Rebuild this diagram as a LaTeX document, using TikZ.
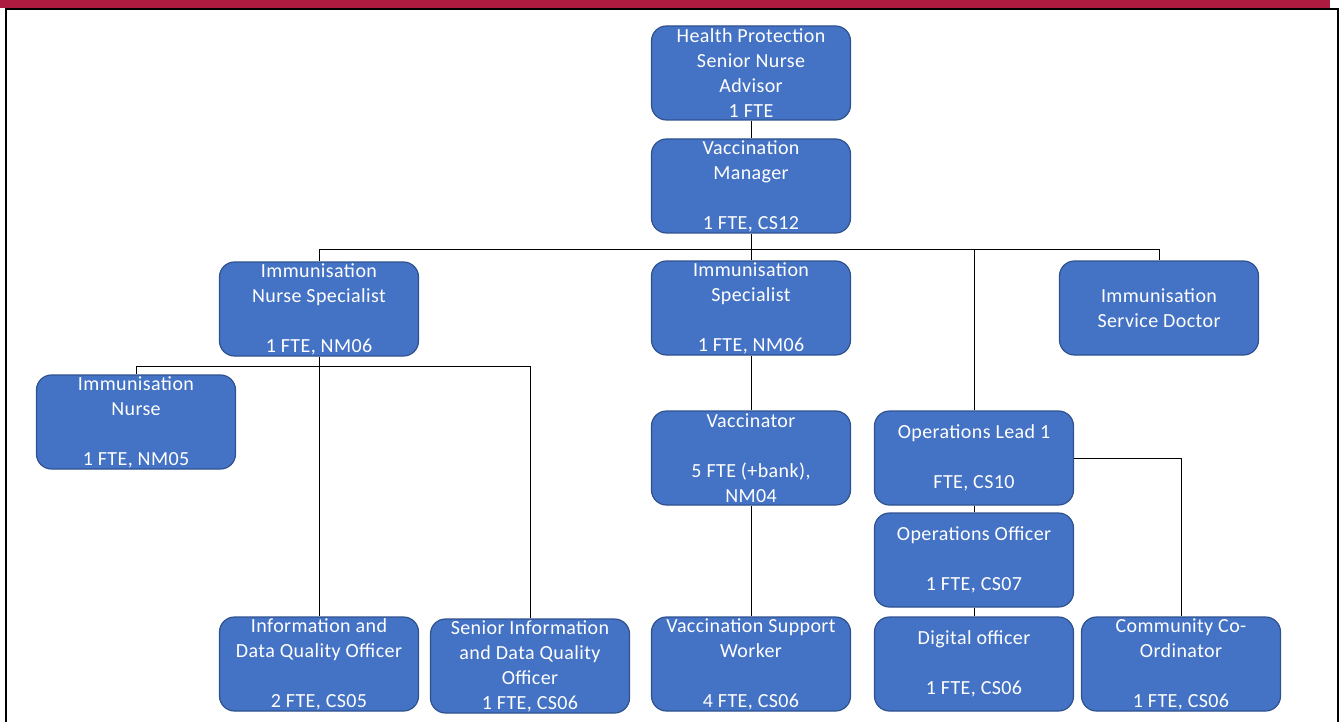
\documentclass[tikz,border=0pt]{standalone}
\usepackage{fontspec}
\setmainfont{Carlito}[LetterSpace=2]
\usetikzlibrary{positioning}

\definecolor{boxblue}{RGB}{68,114,196}
\definecolor{boxline}{RGB}{47,82,143}
\definecolor{hdrred}{RGB}{174,27,64}

\tikzstyle{post} = [rectangle,rounded corners=15pt,draw=boxline,line width=1.2pt,fill=boxblue,
  minimum width=199pt,minimum height=94pt,inner sep=0pt,align=center,text=white,
  font=\fontsize{20}{25}\selectfont]
\tikzstyle{conn} = [draw,line width=1pt,-]
\tikzstyle{frameline} = [draw,line width=2.5pt]

\begin{document}
\begin{tikzpicture}[x=1pt,y=-1pt]
      \useasboundingbox (0,0) rectangle (1341,722);
      %header and frame
      \fill[hdrred] (0,-5) rectangle (1330,8);
      \path[frameline] (6,740) |- (1338,9) -- (1338,740);
      %posts
      \foreach \postname/\x/\y/\txt in {
        hp/751/73/{Health Protection\\Senior Nurse\\Advisor\\1 FTE},
        vm/751/186/{Vaccination\\Manager\\\mbox{}\\1 FTE, CS12},
        ins/319/309/{Immunisation\\Nurse Specialist\\\mbox{}\\1 FTE, NM06},
        is/751/308/{Immunisation\\Specialist\\\mbox{}\\1 FTE, NM06},
        isd/1159/308/{Immunisation\\Service Doctor},
        inn/136/422/{Immunisation\\Nurse\\\mbox{}\\1 FTE, NM05},
        vac/751/458/{Vaccinator\\\mbox{}\\5 FTE (+bank),\\NM04},
        ol/974/458/{Operations Lead 1\\\mbox{}\\FTE, CS10},
        oo/974/560/{Operations Officer\\\mbox{}\\1 FTE, CS07},
        idq/319/664/{Information and\\Data Quality Officer\\\mbox{}\\2 FTE, CS05},
        sidq/530/666/{Senior Information\\and Data Quality\\Officer\\1 FTE, CS06},
        vsw/751/664/{Vaccination Support\\Worker\\\mbox{}\\4 FTE, CS06},
        dig/974/664/{Digital officer\\\mbox{}\\1 FTE, CS06},
        cco/1181/664/{Community Co-\\Ordinator\\\mbox{}\\1 FTE, CS06}}
      {
        \node[post] (\postname) at (\x,\y) {\txt};
      };
      %straight lines
      \path
      \foreach \startnode/\endnode in {hp/vm, vm/is, is/vac, vac/vsw, ins/idq, ol/oo, oo/dig}
      {
        (\startnode.south) edge[conn] (\endnode.north)
      };
      %bus lines
      \path[conn] (vm.south) ++(0,16) coordinate (vmbus) -| (ins.north);
      \path[conn] (vmbus) -| (isd.north);
      \path[conn] (vmbus) -| (ol.north);
      \path[conn] (ins.south) ++(0,10) coordinate (insbus) -| (inn.north);
      \path[conn] (insbus) -| (sidq.north);
      \path[conn] (ol.east) -| (cco.north);
    \end{tikzpicture}
\end{document}
